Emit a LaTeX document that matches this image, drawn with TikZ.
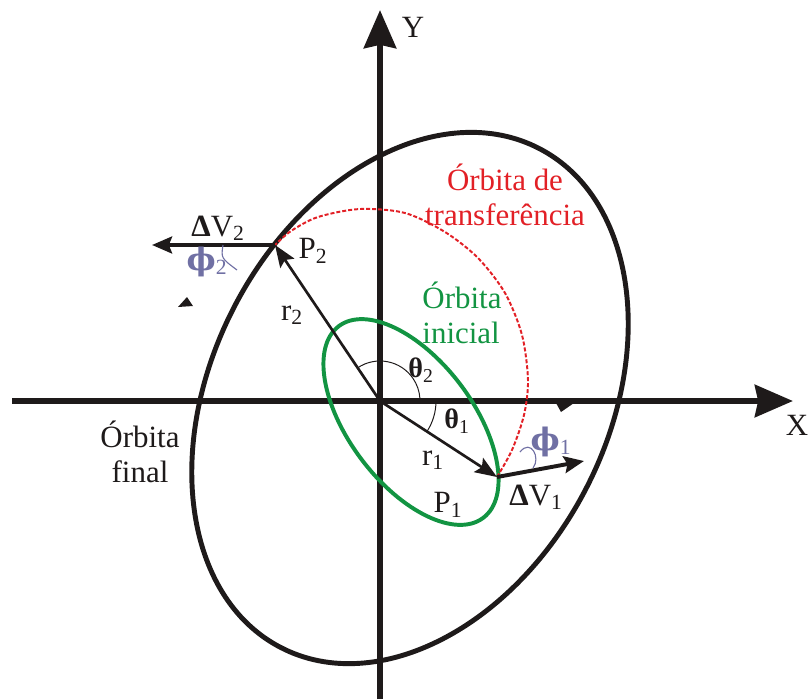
\documentclass[tikz,border=0pt]{standalone}
\usepackage{fontspec}
\setmainfont{Liberation Serif}
\newfontfamily\phifont{DejaVu Serif}
\usetikzlibrary{arrows.meta}
\definecolor{orbred}{RGB}{226,32,38}
\definecolor{orbgreen}{RGB}{18,148,66}
\definecolor{angpurple}{RGB}{112,112,164}
\definecolor{ink}{RGB}{30,26,26}

\begin{document}
\begin{tikzpicture}[x=0.025cm, y=-0.025cm, >=Stealth,
    font=\fontsize{22}{25}\selectfont]
  \tikzset{
    axis/.style={draw=ink, line width=4.5pt,
      -{Stealth[length=0.95cm, width=0.8cm, inset=0.08cm]}},
    orbfin/.style={draw=ink, line width=3.5pt},
    orbini/.style={draw=orbgreen, line width=2.8pt},
    orbtr/.style={draw=orbred, line width=1.4pt,
      dash pattern=on 0.1cm off 0.05cm},
    rad/.style={draw=ink, line width=1.9pt,
      -{Stealth[length=0.55cm, width=0.42cm, inset=0.1cm]}},
    dv/.style={draw=ink, line width=2.8pt,
      -{Stealth[length=0.5cm, width=0.42cm, inset=0.08cm]}},
    ang/.style={draw=ink, line width=0.7pt},
    hook/.style={draw=angpurple, line width=0.8pt},
    lbl/.style={inner sep=0pt, text=ink, align=center},
    sym/.style={lbl, font=\fontsize{20}{22}\selectfont},
    phisym/.style={lbl, text=angpurple, font=\fontsize{22}{24}\selectfont},
  }
  \useasboundingbox (0,0) rectangle (809,699);
  % Points
  \coordinate (O)  at (380,401);
  \coordinate (P1) at (497,477);
  \coordinate (P2) at (275,245);
  \coordinate (xl) at (12,401);  \coordinate (xr) at (793,401);
  \coordinate (yb) at (380,699); \coordinate (yt) at (380,10);
  \coordinate (dv1) at (584,461);
  \coordinate (dv2) at (152,245);
  % Axes
  \draw[axis] (xl) -- (xr);
  \draw[axis] (yb) -- (yt);
  % Orbits
  \draw[orbfin, rotate around={62.6:(410,398)}]
    (410,398) ellipse [x radius=281, y radius=198];
  \draw[orbini, rotate around={-53:(411,422)}]
    (411,422) ellipse [x radius=120, y radius=62];
  \draw[orbtr] plot[smooth] coordinates {
    (P1) (512,450) (524,415) (528,380) (522,335) (505,293)
    (478,258) (445,232) (405,213) (360,209) (318,217) (291,231) (P2)};
  % Vectors
  \draw[rad] (O) -- (P2);
  \draw[rad] (O) -- (P1);
  \draw[dv] (P2) -- (dv2);
  \draw[dv] (P1) -- (dv1);
  % Angles
  \draw[ang] ([shift={(-124:40)}]O) arc[start angle=-124, end angle=-4, radius=40];
  \draw[ang] ([shift={(0:56)}]O) arc[start angle=0, end angle=33, radius=56];
  \draw[hook] (223,245) .. controls (221,258) .. (237,270);
  \draw[hook] (520,452) .. controls (531,438) and (541,458) .. (533,468);
  \fill[ink] (178,307) -- (187,297) -- (193,306) -- cycle;
  \fill[ink] (556,403) -- (574,403) -- (561,412) -- cycle;
  % Labels
  \node[lbl] (ylab) at (413,27)  {Y};
  \node[lbl] (xlab) at (797,425) {X};
  \node[lbl, text=orbred] (ltr) at (505,195) {Órbita de\\transferência};
  \node[lbl, text=orbgreen, align=left] (lini) at (462,313) {Órbita\\inicial};
  \node[lbl] (lfin) at (140,452) {Órbita\\final};
  \node[lbl] (lp2) at (313,251) {P\textsubscript{2}};
  \node[lbl] (lp1) at (448,505) {P\textsubscript{1}};
  \node[lbl] (lr2) at (292,315) {r\textsubscript{2}};
  \node[lbl] (lr1) at (433,460) {r\textsubscript{1}};
  \node[lbl] (ldv2) at (218,228) {\textbf{Δ}V\textsubscript{2}};
  \node[lbl] (ldv1) at (536,497) {\textbf{Δ}V\textsubscript{1}};
  \node[sym] (lth2) at (421,370) {\textbf{θ}\textsubscript{2}};
  \node[sym] (lth1) at (457,421) {\textbf{θ}\textsubscript{1}};
  \node[phisym] (lph2) at (207,262) {{\phifont\bfseries ϕ}\textsubscript{2}};
  \node[phisym] (lph1) at (551,442) {{\phifont\bfseries ϕ}\textsubscript{1}};
\end{tikzpicture}
\end{document}
